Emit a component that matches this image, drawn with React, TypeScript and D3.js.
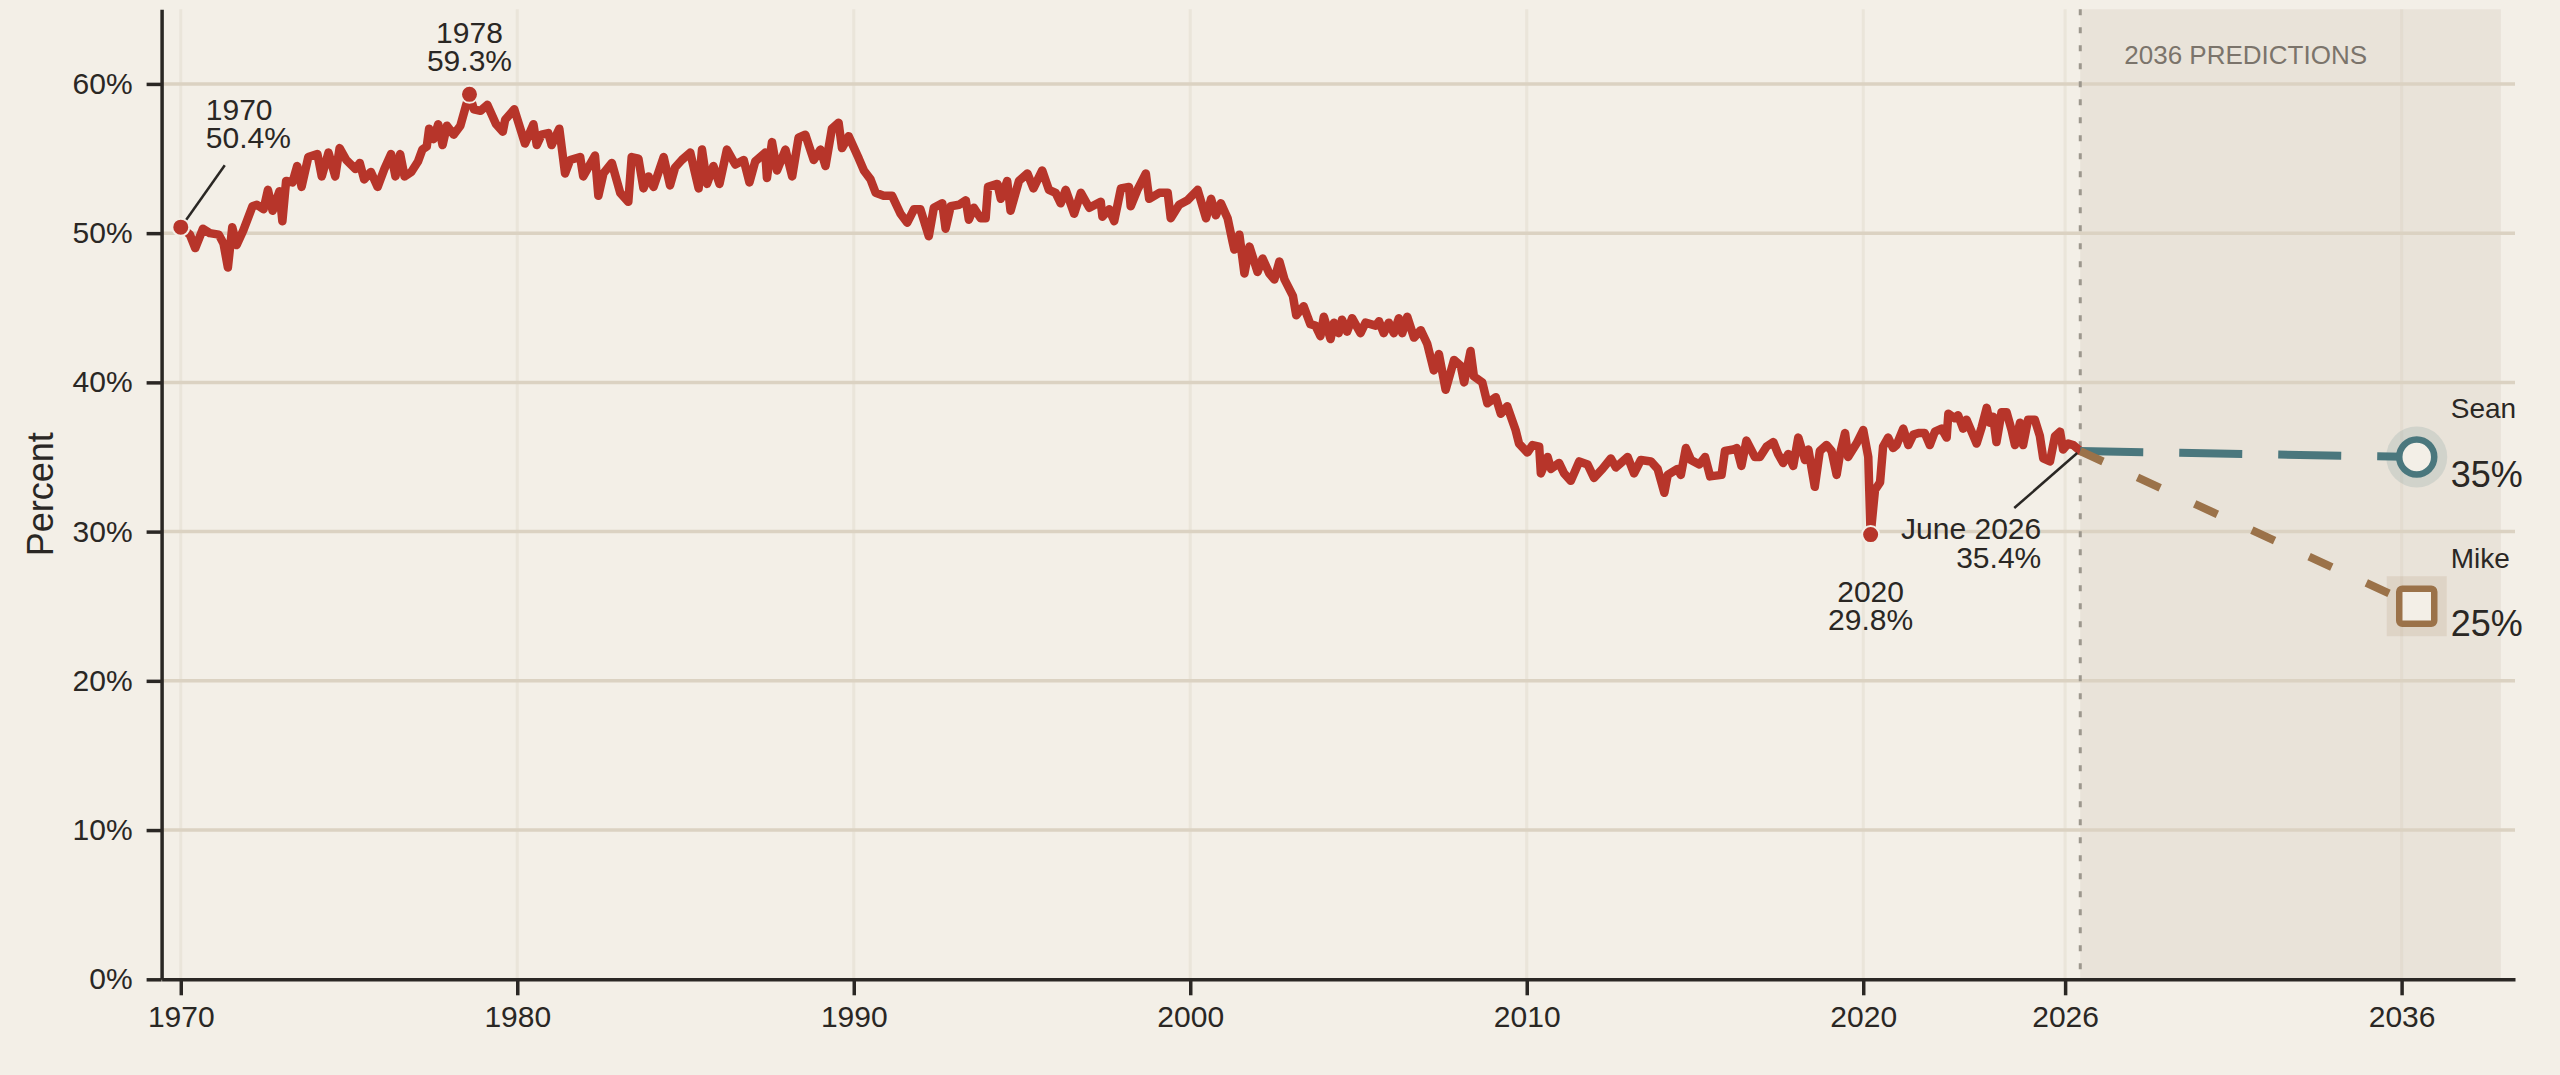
import React, { useEffect, useRef } from "react";
import { select, scaleLinear, line, axisBottom, axisLeft } from "d3";

// monthly-ish readings: [decimal year, percent]
const series1970s: [number, number][] = [
  [1970.0, 50.4], [1970.27, 49.9], [1970.43, 49.0], [1970.66, 50.3], [1970.86, 50.0],
  [1971.13, 49.9], [1971.27, 49.3], [1971.4, 47.7], [1971.53, 50.4], [1971.66, 49.2],
  [1971.86, 50.2], [1972.13, 51.8], [1972.26, 51.9], [1972.46, 51.6], [1972.59, 52.9],
  [1972.73, 51.5], [1972.93, 52.8], [1973.02, 50.8], [1973.13, 53.5], [1973.32, 53.4],
  [1973.46, 54.5], [1973.59, 53.1], [1973.79, 55.1], [1974.06, 55.3], [1974.19, 53.8],
  [1974.39, 55.4], [1974.59, 53.8], [1974.72, 55.7], [1974.92, 54.9], [1975.19, 54.3],
  [1975.32, 54.7], [1975.45, 53.6], [1975.65, 54.1], [1975.85, 53.1], [1976.05, 54.3],
  [1976.25, 55.3], [1976.38, 53.8], [1976.52, 55.3], [1976.65, 53.8], [1976.85, 54.1],
  [1977.05, 54.8], [1977.18, 55.6], [1977.31, 55.8], [1977.38, 57.0], [1977.51, 56.3],
  [1977.65, 57.3], [1977.78, 55.9], [1977.91, 57.2], [1978.11, 56.6], [1978.31, 57.2],
  [1978.47, 58.5], [1978.58, 59.3], [1978.71, 58.3], [1978.91, 58.2], [1979.11, 58.6],
  [1979.37, 57.3], [1979.57, 56.8], [1979.64, 57.6], [1979.91, 58.3],
];

const series1980s: [number, number][] = [
  [1980.23, 56.0], [1980.48, 57.3], [1980.58, 55.9], [1980.72, 56.6], [1980.92, 56.7],
  [1981.02, 55.9], [1981.25, 57.0], [1981.42, 54.0], [1981.57, 54.9], [1981.87, 55.1],
  [1981.96, 53.8], [1982.31, 55.2], [1982.41, 52.5], [1982.56, 54.0], [1982.81, 54.7],
  [1983.06, 52.7], [1983.3, 52.1], [1983.4, 55.1], [1983.6, 55.0], [1983.75, 53.0],
  [1983.9, 53.8], [1984.05, 53.1], [1984.35, 55.1], [1984.54, 53.2], [1984.69, 54.4],
  [1984.89, 54.9], [1985.14, 55.4], [1985.39, 53.0], [1985.49, 55.6], [1985.64, 53.3],
  [1985.83, 54.5], [1986.01, 53.3], [1986.23, 55.6], [1986.48, 54.6], [1986.73, 54.9],
  [1986.9, 53.4], [1987.07, 54.8], [1987.37, 55.4], [1987.42, 53.7], [1987.57, 56.1],
  [1987.72, 54.2], [1987.97, 55.6], [1988.17, 53.8], [1988.36, 56.4], [1988.56, 56.6],
  [1988.81, 54.9], [1989.01, 55.6], [1989.16, 54.5], [1989.35, 57.0], [1989.55, 57.4],
  [1989.65, 55.7], [1989.85, 56.5],
];

const series1990s: [number, number][] = [
  [1990.15, 55.0], [1990.3, 54.2], [1990.5, 53.6], [1990.65, 52.7], [1990.89, 52.5],
  [1991.14, 52.5], [1991.39, 51.3], [1991.59, 50.7], [1991.79, 51.6], [1991.98, 51.6],
  [1992.23, 49.8], [1992.38, 51.7], [1992.63, 52.0], [1992.73, 50.3], [1992.88, 51.8],
  [1993.13, 51.9], [1993.33, 52.2], [1993.42, 50.9], [1993.57, 51.7], [1993.77, 51.0],
  [1993.92, 51.0], [1993.99, 53.1], [1994.27, 53.3], [1994.37, 52.3], [1994.56, 53.5],
  [1994.66, 51.5], [1994.91, 53.5], [1995.16, 54.0], [1995.34, 53.0], [1995.6, 54.2],
  [1995.8, 52.9], [1996.0, 52.7], [1996.15, 52.0], [1996.3, 52.9], [1996.55, 51.3],
  [1996.75, 52.7], [1997.0, 51.7], [1997.34, 52.1], [1997.39, 51.1], [1997.59, 51.6],
  [1997.74, 50.8], [1997.94, 53.0], [1998.18, 53.1], [1998.23, 51.8], [1998.43, 52.9],
  [1998.68, 54.0], [1998.78, 52.3], [1999.08, 52.7], [1999.33, 52.7], [1999.42, 51.0],
  [1999.67, 51.9], [1999.92, 52.2],
];

const series2000s: [number, number][] = [
  [2000.22, 52.9], [2000.47, 51.0], [2000.62, 52.3], [2000.76, 51.2], [2000.91, 52.0],
  [2001.11, 51.0], [2001.26, 49.4], [2001.31, 48.9], [2001.46, 49.9], [2001.61, 47.3],
  [2001.76, 49.1], [2002.0, 47.4], [2002.15, 48.3], [2002.35, 47.3], [2002.5, 46.9],
  [2002.65, 48.1], [2002.8, 46.9], [2003.05, 45.8], [2003.15, 44.5], [2003.37, 45.1],
  [2003.57, 43.9], [2003.72, 43.8], [2003.87, 43.1], [2003.97, 44.4], [2004.17, 42.9],
  [2004.27, 44.0], [2004.41, 43.3], [2004.51, 44.2], [2004.66, 43.4], [2004.81, 44.3],
  [2005.06, 43.3], [2005.21, 44.0], [2005.51, 43.8], [2005.61, 44.1], [2005.75, 43.3],
  [2005.9, 44.0], [2006.05, 43.3], [2006.2, 44.3], [2006.3, 43.3], [2006.45, 44.4],
  [2006.65, 43.0], [2006.85, 43.5], [2007.04, 42.6], [2007.24, 40.8], [2007.39, 41.9],
  [2007.59, 39.5], [2007.84, 41.5], [2008.04, 41.1], [2008.14, 40.0], [2008.33, 42.1],
  [2008.43, 40.4], [2008.68, 40.0], [2008.83, 38.6], [2009.08, 39.0], [2009.23, 37.9],
  [2009.42, 38.4], [2009.67, 36.8], [2009.77, 35.9],
];

const series2010s: [number, number][] = [
  [2010.02, 35.3], [2010.17, 35.8], [2010.37, 35.7], [2010.42, 33.9], [2010.62, 35.0],
  [2010.72, 34.2], [2010.96, 34.6], [2011.11, 33.9], [2011.31, 33.4], [2011.56, 34.7],
  [2011.81, 34.5], [2012.0, 33.6], [2012.25, 34.2], [2012.5, 34.9], [2012.65, 34.3],
  [2013.0, 35.0], [2013.19, 33.9], [2013.39, 34.8], [2013.69, 34.7], [2013.89, 34.2],
  [2014.09, 32.6], [2014.19, 33.8], [2014.48, 34.2], [2014.58, 33.8], [2014.73, 35.6],
  [2014.88, 34.8], [2015.13, 34.5], [2015.3, 35.0], [2015.45, 33.7], [2015.79, 33.8],
  [2015.89, 35.4], [2016.14, 35.5], [2016.24, 35.6], [2016.38, 34.4], [2016.53, 36.1],
  [2016.78, 35.0], [2016.93, 35.0], [2017.13, 35.7], [2017.33, 36.0], [2017.47, 35.2],
  [2017.62, 34.6], [2017.77, 35.2], [2017.92, 34.4], [2018.07, 36.3], [2018.27, 34.8],
  [2018.37, 35.5], [2018.56, 33.0], [2018.71, 35.4], [2018.91, 35.8], [2019.06, 35.4],
  [2019.21, 33.8], [2019.31, 35.2], [2019.46, 36.6], [2019.55, 35.0], [2019.8, 35.9],
];

const series2020s: [number, number][] = [
  [2020.0, 36.8], [2020.15, 35.0], [2020.22, 29.8], [2020.35, 32.8], [2020.5, 33.3],
  [2020.59, 35.7], [2020.74, 36.3], [2020.89, 35.6], [2020.99, 35.8], [2021.19, 36.9],
  [2021.34, 35.8], [2021.49, 36.5], [2021.64, 36.6], [2021.83, 36.6], [2021.98, 35.8],
  [2022.13, 36.7], [2022.33, 36.9], [2022.48, 36.3], [2022.53, 37.9], [2022.72, 37.6],
  [2022.82, 37.8], [2022.97, 36.9], [2023.07, 37.5], [2023.37, 35.9], [2023.52, 37.0],
  [2023.67, 38.3], [2023.76, 37.3], [2023.86, 37.7], [2023.96, 36.0], [2024.11, 38.0],
  [2024.26, 38.0], [2024.41, 36.8], [2024.51, 35.8], [2024.66, 37.3], [2024.75, 35.8],
  [2024.9, 37.5], [2025.1, 37.5], [2025.25, 36.4], [2025.35, 34.9], [2025.55, 34.7],
  [2025.7, 36.4], [2025.85, 36.7], [2025.94, 35.5], [2026.09, 35.9], [2026.24, 35.8],
  [2026.45, 35.4],
];

const xTicks = [1970, 1980, 1990, 2000, 2010, 2020, 2026, 2036];
const yTicks = [0, 10, 20, 30, 40, 50, 60];

const predictionNames = ["Sean", "Mike"];
const predictionValues = [35, 25];
const predictionYear = 2036.45;

// callouts: year, value, first line, second line
const callouts: [number, number, string, string][] = [
  [1970.0, 50.4, "1970", "50.4%"],
  [1978.58, 59.3, "1978", "59.3%"],
  [2020.22, 29.8, "2020", "29.8%"],
  [2026.45, 35.4, "June 2026", "35.4%"],
];

const WIDTH = 2560;
const HEIGHT = 1075;
const FONT = "'Liberation Sans', Arial, Helvetica, sans-serif";
const BG = "#f3efe7";
const INK = "#2a2724";
const RED = "#b7352a";
const TEAL = "#4a777d";
const BROWN = "#9b7249";

const App: React.FC = () => {
  const svgRef = useRef<SVGSVGElement>(null);

  useEffect(() => {
    document.body.style.margin = "0";
    document.body.style.background = BG;
    const svg = select(svgRef.current);
    svg.selectAll("*").remove();
    svg.attr("width", WIDTH).attr("height", HEIGHT).style("display", "block");

    const data = [
      ...series1970s,
      ...series1980s,
      ...series1990s,
      ...series2000s,
      ...series2010s,
      ...series2020s,
    ];
    const last = data[data.length - 1];

    const x = scaleLinear().domain([1969.43, 2039.37]).range([161.6, 2515]);
    const y = scaleLinear().domain([0, 65]).range([979.3, 9.3]);
    const top = y(65);
    const bottom = y(0);

    svg.append("rect").attr("width", WIDTH).attr("height", HEIGHT).attr("fill", BG);

    // prediction band
    svg
      .append("rect")
      .attr("x", x(last[0]))
      .attr("y", top)
      .attr("width", x(2038.95) - x(last[0]))
      .attr("height", bottom - top)
      .attr("fill", "#e9e3d9");

    svg
      .append("text")
      .attr("x", x(last[0]) + 44)
      .attr("y", 64)
      .attr("font-family", FONT)
      .attr("font-size", 26)
      .attr("fill", "#7b746b")
      .text("2036 PREDICTIONS");

    // grid
    svg
      .append("g")
      .selectAll("line")
      .data(xTicks)
      .join("line")
      .attr("x1", (d) => x(d))
      .attr("x2", (d) => x(d))
      .attr("y1", top)
      .attr("y2", bottom)
      .attr("stroke", "#d6cdbd")
      .attr("stroke-opacity", 0.3)
      .attr("stroke-width", 3);

    svg
      .append("g")
      .selectAll("line")
      .data(yTicks.filter((d) => d > 0))
      .join("line")
      .attr("x1", x.range()[0])
      .attr("x2", x.range()[1])
      .attr("y1", (d) => y(d))
      .attr("y2", (d) => y(d))
      .attr("stroke", "#dbd2c2")
      .attr("stroke-width", 3.5);

    svg
      .append("line")
      .attr("x1", x(last[0]))
      .attr("x2", x(last[0]))
      .attr("y1", top)
      .attr("y2", bottom)
      .attr("stroke", "#9c978d")
      .attr("stroke-width", 3)
      .attr("stroke-dasharray", "6,12");

    // history line
    const path = line<[number, number]>()
      .x((d) => x(d[0]))
      .y((d) => y(d[1]));

    svg
      .append("path")
      .datum(data)
      .attr("d", path)
      .attr("fill", "none")
      .attr("stroke", RED)
      .attr("stroke-width", 8.5)
      .attr("stroke-linejoin", "round")
      .attr("stroke-linecap", "round");

    // predictions
    const colors = [TEAL, BROWN];
    const dashes = ["63,36", "25,38"];
    predictionNames.forEach((name, i) => {
      svg
        .append("path")
        .datum([last, [predictionYear, predictionValues[i]]] as [number, number][])
        .attr("d", path)
        .attr("fill", "none")
        .attr("stroke", colors[i])
        .attr("stroke-width", 8)
        .attr("stroke-dasharray", dashes[i]);
    });

    predictionNames.forEach((name, i) => {
      const cx = x(predictionYear);
      const cy = y(predictionValues[i]);
      const g = svg.append("g");
      if (i === 0) {
        g.append("circle").attr("cx", cx).attr("cy", cy).attr("r", 30.5)
          .attr("fill", TEAL).attr("fill-opacity", 0.15);
        g.append("circle").attr("cx", cx).attr("cy", cy).attr("r", 17.5)
          .attr("fill", BG).attr("stroke", TEAL).attr("stroke-width", 6.5);
      } else {
        g.append("rect").attr("x", cx - 30).attr("y", cy - 30).attr("width", 60).attr("height", 60)
          .attr("fill", BROWN).attr("fill-opacity", 0.13);
        g.append("rect").attr("x", cx - 17.5).attr("y", cy - 17.5).attr("width", 35).attr("height", 35)
          .attr("rx", 3).attr("fill", BG).attr("stroke", BROWN).attr("stroke-width", 6.5);
      }
      g.append("text").attr("x", cx + 34).attr("y", cy - 38.5)
        .attr("font-family", FONT).attr("font-size", 28).attr("fill", INK).text(name);
      g.append("text").attr("x", cx + 34).attr("y", cy + 30)
        .attr("font-family", FONT).attr("font-size", 36).attr("fill", INK)
        .text(`${predictionValues[i]}%`);
    });

    // callouts
    const ann = svg.append("g").attr("font-family", FONT).attr("font-size", 30).attr("fill", INK);
    const [c1970, c1978, c2020, cJune] = callouts;

    const p0 = [x(c1970[0]), y(c1970[1])];
    ann.append("line").attr("x1", p0[0] + 44).attr("y1", p0[1] - 62)
      .attr("x2", p0[0] + 3).attr("y2", p0[1] - 4).attr("stroke", INK).attr("stroke-width", 2.5);
    ann.append("text").attr("x", p0[0] + 25).attr("y", p0[1] - 107).text(c1970[2]);
    ann.append("text").attr("x", p0[0] + 25).attr("y", p0[1] - 79).text(c1970[3]);

    const p1 = [x(c1978[0]), y(c1978[1])];
    ann.append("text").attr("x", p1[0]).attr("y", p1[1] - 51).attr("text-anchor", "middle").text(c1978[2]);
    ann.append("text").attr("x", p1[0]).attr("y", p1[1] - 23).attr("text-anchor", "middle").text(c1978[3]);

    const p2 = [x(c2020[0]), y(c2020[1])];
    ann.append("text").attr("x", p2[0]).attr("y", p2[1] + 67).attr("text-anchor", "middle").text(c2020[2]);
    ann.append("text").attr("x", p2[0]).attr("y", p2[1] + 95).attr("text-anchor", "middle").text(c2020[3]);

    const p3 = [x(cJune[0]), y(cJune[1])];
    ann.append("line").attr("x1", p3[0] - 66).attr("y1", p3[1] + 57)
      .attr("x2", p3[0] - 3).attr("y2", p3[1] + 2).attr("stroke", INK).attr("stroke-width", 2.5);
    ann.append("text").attr("x", p3[0] - 39).attr("y", p3[1] + 88).attr("text-anchor", "end").text(cJune[2]);
    ann.append("text").attr("x", p3[0] - 39).attr("y", p3[1] + 117).attr("text-anchor", "end").text(cJune[3]);

    svg
      .append("g")
      .selectAll("circle")
      .data([c1970, c1978, c2020])
      .join("circle")
      .attr("cx", (d) => x(d[0]))
      .attr("cy", (d) => y(d[1]))
      .attr("r", 8.5)
      .attr("fill", RED)
      .attr("stroke", BG)
      .attr("stroke-width", 2);

    // axes
    const xAxis = svg
      .append("g")
      .attr("transform", `translate(0,${bottom})`)
      .call(
        axisBottom(x)
          .tickValues(xTicks)
          .tickFormat((d) => String(d))
          .tickSize(16)
          .tickSizeOuter(0)
          .tickPadding(10)
      );
    const yAxis = svg
      .append("g")
      .attr("transform", `translate(${x.range()[0]},0)`)
      .call(
        axisLeft(y)
          .tickValues(yTicks)
          .tickFormat((d) => `${d}%`)
          .tickSize(15)
          .tickSizeOuter(0)
          .tickPadding(14)
      );
    [xAxis, yAxis].forEach((a) => {
      a.select(".domain").attr("stroke", INK).attr("stroke-width", 3.5);
      a.selectAll(".tick line").attr("stroke", INK).attr("stroke-width", 3.5);
      a.selectAll(".tick text")
        .attr("fill", INK)
        .attr("font-size", 30)
        .attr("font-family", FONT);
    });

    svg
      .append("text")
      .attr("transform", `translate(53,${(top + bottom) / 2}) rotate(-90)`)
      .attr("text-anchor", "middle")
      .attr("font-family", FONT)
      .attr("font-size", 36)
      .attr("fill", INK)
      .text("Percent");
  }, []);

  return <svg ref={svgRef} />;
};

export default App;
